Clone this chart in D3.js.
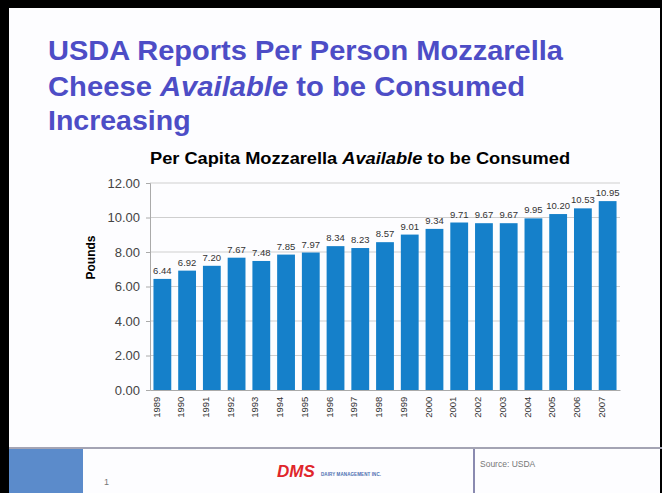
<!DOCTYPE html>
<html>
<head>
<meta charset="utf-8">
<script src="https://cdn.jsdelivr.net/npm/d3@7"></script>
<style>
  html, body { margin: 0; padding: 0; background: #000; }
  svg { display: block; }
</style>
</head>
<body>
<div id="chart"></div>
<script>
// data
const years = ['1989', '1990', '1991', '1992', '1993', '1994', '1995', '1996', '1997', '1998',
               '1999', '2000', '2001', '2002', '2003', '2004', '2005', '2006', '2007'];
const pounds = [6.44, 6.92, 7.20, 7.67, 7.48, 7.85, 7.97, 8.34, 8.23, 8.57,
                9.01, 9.34, 9.71, 9.67, 9.67, 9.95, 10.20, 10.53, 10.95];
const yTicks = [0, 2, 4, 6, 8, 10, 12];

const W = 662, H = 493;
const plot = { left: 150, right: 620, top: 183, bottom: 390 };
const FONT = 'Liberation Sans, Arial, sans-serif';

const svg = d3.select('#chart').append('svg')
    .attr('width', W)
    .attr('height', H);

// slide frame
svg.append('rect').attr('x', 0).attr('y', 0).attr('width', W).attr('height', H).attr('fill', '#000');
svg.append('rect').attr('x', 9).attr('y', 8).attr('width', W - 11).attr('height', H - 8).attr('fill', '#fdfdff');

// slide heading
const heading = svg.append('g')
    .attr('font-family', FONT)
    .attr('font-weight', 'bold')
    .attr('font-size', 28.5)
    .attr('fill', '#4d4dc6');

heading.append('text').attr('x', 48).attr('y', 60)
    .attr('textLength', 515).attr('lengthAdjust', 'spacingAndGlyphs')
    .text('USDA Reports Per Person Mozzarella');
const l2 = heading.append('text').attr('x', 48).attr('y', 96)
    .attr('textLength', 477).attr('lengthAdjust', 'spacingAndGlyphs');
l2.append('tspan').text('Cheese ');
l2.append('tspan').attr('font-style', 'italic').text('Available');
l2.append('tspan').text(' to be Consumed');
heading.append('text').attr('x', 48).attr('y', 130).text('Increasing');

// chart title
const ct = svg.append('text')
    .attr('x', 150).attr('y', 164)
    .attr('textLength', 420).attr('lengthAdjust', 'spacingAndGlyphs')
    .attr('font-family', FONT)
    .attr('font-weight', 'bold')
    .attr('font-size', 16)
    .attr('fill', '#000');
ct.append('tspan').text('Per Capita Mozzarella ');
ct.append('tspan').attr('font-style', 'italic').text('Available');
ct.append('tspan').text(' to be Consumed');

// scales
const x = d3.scaleBand()
    .domain(years)
    .range([plot.left, plot.right])
    .paddingInner(0.28)
    .paddingOuter(0.14);

const y = d3.scaleLinear()
    .domain([0, 12])
    .range([plot.bottom, plot.top]);

// gridlines
svg.append('g')
    .selectAll('line')
    .data(yTicks.filter(d => d > 0))
    .enter()
    .append('line')
    .attr('x1', plot.left)
    .attr('x2', plot.right)
    .attr('y1', d => y(d))
    .attr('y2', d => y(d))
    .attr('stroke', '#cfcfcf')
    .attr('stroke-width', 1);

// y axis
const yAxis = svg.append('g')
    .attr('transform', `translate(${plot.left},0)`)
    .call(d3.axisLeft(y).tickValues(yTicks).tickFormat(d3.format('.2f')).tickSize(4).tickPadding(6));
yAxis.select('.domain').attr('stroke', '#aaa');
yAxis.selectAll('.tick line').attr('stroke', '#aaa');
yAxis.selectAll('text')
    .attr('font-family', FONT)
    .attr('font-size', 13)
    .attr('fill', '#444');

svg.append('text')
    .attr('transform', `translate(95,${(plot.top + plot.bottom) / 2 - 29}) rotate(-90)`)
    .attr('text-anchor', 'middle')
    .attr('font-family', FONT)
    .attr('font-weight', 'bold')
    .attr('font-size', 12)
    .attr('fill', '#000')
    .text('Pounds');

// bars
svg.append('g')
    .selectAll('rect')
    .data(pounds)
    .enter()
    .append('rect')
    .attr('x', (d, i) => x(years[i]))
    .attr('y', d => y(d))
    .attr('width', x.bandwidth())
    .attr('height', d => y(0) - y(d))
    .attr('fill', '#1580ca');

// value labels
svg.append('g')
    .selectAll('text')
    .data(pounds)
    .enter()
    .append('text')
    .attr('x', (d, i) => x(years[i]) + x.bandwidth() / 2)
    .attr('y', d => y(d) - 5)
    .attr('text-anchor', 'middle')
    .attr('font-family', FONT)
    .attr('font-size', 9.5)
    .attr('fill', '#333')
    .text(d => d.toFixed(2));

// x axis
const xAxis = svg.append('g')
    .attr('transform', `translate(0,${plot.bottom})`)
    .call(d3.axisBottom(x).tickSize(0).tickPadding(6));
xAxis.select('.domain').attr('stroke', '#aaa');
xAxis.selectAll('text')
    .attr('font-family', FONT)
    .attr('font-size', 9.5)
    .attr('fill', '#333')
    .attr('transform', 'rotate(-90)')
    .attr('text-anchor', 'end')
    .attr('dx', '-0.7em')
    .attr('dy', '-0.3em')
    .attr('x', 0)
    .attr('y', 0);

// footer
svg.append('line')
    .attr('x1', 9).attr('x2', W).attr('y1', 448).attr('y2', 448)
    .attr('stroke', '#a4a4b4').attr('stroke-width', 2);
svg.append('rect')
    .attr('x', 9).attr('y', 449).attr('width', 74).attr('height', H - 449)
    .attr('fill', '#5b8bcb');
svg.append('line')
    .attr('x1', 474).attr('x2', 474).attr('y1', 449).attr('y2', H)
    .attr('stroke', '#8a8ab0').attr('stroke-width', 2);

svg.append('text')
    .attr('x', 104).attr('y', 485)
    .attr('font-family', FONT)
    .attr('font-size', 9)
    .attr('fill', '#777')
    .text('1');

svg.append('text')
    .attr('x', 480).attr('y', 467)
    .attr('font-family', FONT)
    .attr('font-size', 8.5)
    .attr('fill', '#777')
    .text('Source: USDA');

svg.append('text')
    .attr('x', 277).attr('y', 477)
    .attr('font-family', FONT)
    .attr('font-weight', 'bold')
    .attr('font-style', 'italic')
    .attr('font-size', 17)
    .attr('fill', '#e0262b')
    .text('DMS');

svg.append('text')
    .attr('x', 321).attr('y', 476)
    .attr('textLength', 60)
    .attr('font-family', FONT)
    .attr('font-weight', 'bold')
    .attr('font-size', 4.5)
    .attr('fill', '#4a6fb0')
    .text('DAIRY MANAGEMENT INC.');
</script>
</body>
</html>
